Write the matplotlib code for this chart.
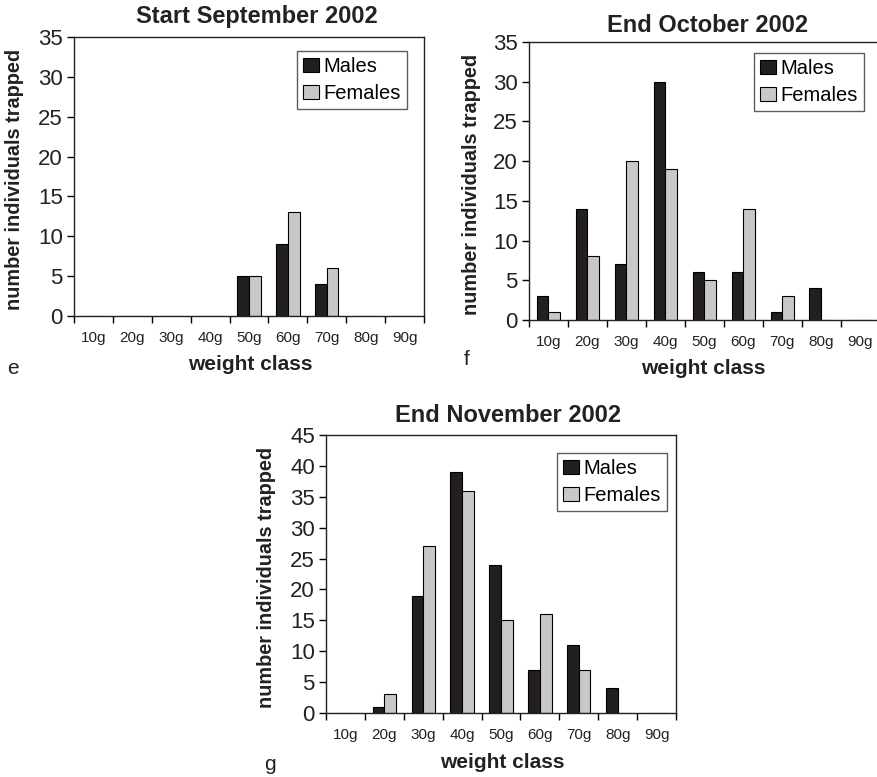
import matplotlib
matplotlib.use("Agg")
import matplotlib.pyplot as plt
import numpy as np

plt.rcParams["font.family"] = ["Liberation Sans", "DejaVu Sans"]

# weight classes and trap counts per survey
classes = ["10g", "20g", "30g", "40g", "50g", "60g", "70g", "80g", "90g"]

sep_males = [0, 0, 0, 0, 5, 9, 4, 0, 0]
sep_females = [0, 0, 0, 0, 5, 13, 6, 0, 0]

oct_males = [3, 14, 7, 30, 6, 6, 1, 4, 0]
oct_females = [1, 8, 20, 19, 5, 14, 3, 0, 0]

nov_males = [0, 1, 19, 39, 24, 7, 11, 4, 0]
nov_females = [0, 3, 27, 36, 15, 16, 7, 0, 0]

W, H = 878, 777
MALE_COL = "#231f20"
FEMALE_COL = "#c8c8c8"

fig = plt.figure(figsize=(W / 100, H / 100), dpi=100)


def px(x, y):
    """Pixel position (from top-left) to figure fraction."""
    return x / W, 1 - y / H


def panel(box, males, females, ymax, title, letter, title_xy, ylab_x,
          xlab_xy, letter_xy, legend_xy):
    left, top, right, bottom = box
    ax = fig.add_axes([left / W, 1 - bottom / H, (right - left) / W,
                       (bottom - top) / H])
    x = np.arange(len(classes))
    w = 0.3
    ax.bar(x - w / 2, males, w, color=MALE_COL, edgecolor="black",
           linewidth=0.8, label="Males", zorder=2)
    ax.bar(x + w / 2, females, w, color=FEMALE_COL, edgecolor="black",
           linewidth=0.8, label="Females", zorder=2)

    ax.set_xlim(-0.5, len(classes) - 0.5)
    ax.set_ylim(0, ymax)
    ax.set_yticks(np.arange(0, ymax + 1, 5))
    ax.set_xticks(x)
    ax.set_xticklabels(classes, fontsize=11, color="#222222")
    ax.set_xticks(np.arange(-0.5, len(classes)), minor=True)
    ax.tick_params(axis="x", which="major", length=0, pad=11)
    ax.tick_params(axis="x", which="minor", length=5, width=1,
                   direction="out")
    ax.tick_params(axis="y", length=5, width=1, direction="out", pad=3,
                   labelsize=16, labelcolor="#222222")
    for s in ax.spines.values():
        s.set_linewidth(1)
        s.set_color("#222222")

    leg = ax.legend(loc="upper right",
                    bbox_to_anchor=px(*legend_xy),
                    bbox_transform=fig.transFigure,
                    fontsize=14.5, frameon=True, fancybox=False,
                    handlelength=0.75, handleheight=0.75,
                    handletextpad=0.25, labelspacing=0.4,
                    borderpad=0.3, borderaxespad=0)
    leg.get_frame().set_edgecolor("#333333")
    leg.get_frame().set_linewidth(1)

    fig.text(*px(*title_xy), title, fontsize=17, fontweight="bold",
             ha="center", va="center", color="#222222")
    fig.text(*px(ylab_x, (top + bottom) / 2 + 3), "number individuals trapped",
             fontsize=14.3, fontweight="bold", rotation=90,
             ha="center", va="center", color="#222222")
    fig.text(*px(*xlab_xy), "weight class", fontsize=15, fontweight="bold",
             ha="center", va="center", color="#222222")
    fig.text(*px(*letter_xy), letter, fontsize=15, ha="center", va="center",
             color="#222222")
    return ax


panel((74, 37, 424, 316), sep_males, sep_females, 35,
      "Start September 2002", "e", (257, 17), 15, (250, 364), (13, 368),
      (407, 51))
panel((529, 42, 879.6, 320), oct_males, oct_females, 35,
      "End October 2002", "f", (708, 26), 472, (703, 368), (467, 360),
      (864, 53))
panel((326, 435, 676, 713), nov_males, nov_females, 45,
      "End November 2002", "g", (508, 416), 267, (502, 762), (270, 765),
      (667, 453))

fig.savefig("out.png", dpi=100)
